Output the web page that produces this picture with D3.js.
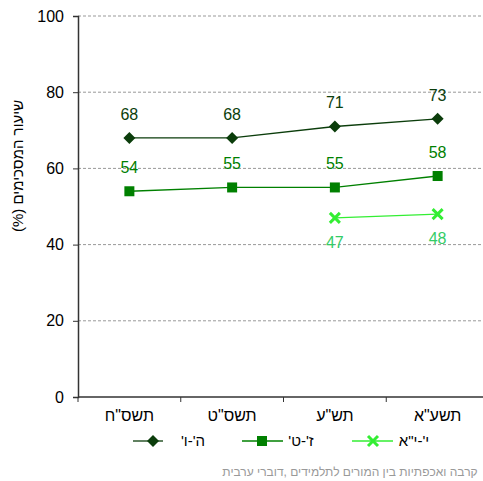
<!DOCTYPE html>
<html><head><meta charset="utf-8">
<script src="https://cdn.jsdelivr.net/npm/d3@7"></script>
<style>body{margin:0;background:#fff}svg{display:block;font-family:"Liberation Sans",Arial,sans-serif}</style>
</head><body><svg id="c" width="483" height="481"></svg>
<script>
const categories = ['תשס"ח', 'תשס"ט', 'תש"ע', 'תשע"א'];
const seriesNames = ["ה'-ו'", "ז'-ט'", "י'-י\"א"];
const valuesA = [68, 68, 71, 73];
const valuesB = [54, 55, 55, 58];
const valuesC = [null, null, 47, 48];
const yTicks = [0, 20, 40, 60, 80, 100];
const yTitle = "שיעור המסכימים (%)";
const footer = "קרבה ואכפתיות בין המורים לתלמידים ,דוברי ערבית";

(function () {
const svg = d3.select("#c");
const mLeft = 78, mRight = 489, mTop = 16, mBottom = 397;
const x = d3.scaleBand().domain(categories).range([mLeft, mRight]);
const y = d3.scaleLinear().domain([0, 100]).range([mBottom, mTop]);

// grid
svg.append("g").selectAll("line").data(yTicks.filter(d => d > 0)).join("line")
  .attr("x1", mLeft).attr("x2", 483).attr("y1", d => y(d)).attr("y2", d => y(d))
  .attr("stroke", "#999").attr("stroke-dasharray", "3,2").attr("stroke-width", 1);

// y axis
const ya = svg.append("g").attr("transform", `translate(${mLeft},0)`)
  .call(d3.axisLeft(y).tickValues(yTicks).tickSize(5).tickPadding(9));
ya.select(".domain").attr("stroke", "#333").attr("stroke-width", 1.5);
ya.selectAll(".tick line").attr("stroke", "#333");
ya.selectAll("text").attr("font-size", 16).attr("fill", "#000").attr("font-family", "Liberation Sans, Arial");

// x axis
svg.append("line").attr("x1", mLeft).attr("x2", 483).attr("y1", mBottom).attr("y2", mBottom).attr("stroke", "#333").attr("stroke-width", 1.5);
const bounds = categories.map(c => x(c));
svg.append("g").selectAll("line").data(bounds).join("line")
  .attr("x1", d => d).attr("x2", d => d).attr("y1", mBottom).attr("y2", mBottom + 5).attr("stroke", "#333");
svg.append("g").selectAll("text").data(categories).join("text")
  .attr("x", d => x(d) + x.bandwidth() / 2).attr("y", 421)
  .attr("text-anchor", "middle").attr("direction", "rtl").attr("font-size", 16).text(d => d);

// y title
svg.append("text").attr("transform", "translate(23,166) rotate(-90)")
  .attr("text-anchor", "middle").attr("direction", "rtl").attr("font-size", 15).text(yTitle);

const cx = i => x(categories[i]) + x.bandwidth() / 2;
const series = [
  {vals: valuesA, color: "#0b3d0b", label: "#0b3d0b", marker: "diamond", dy: -18},
  {vals: valuesB, color: "#008000", label: "#008000", marker: "square", dy: -18},
  {vals: valuesC, color: "#33ee33", label: "#33cc66", marker: "x", dy: 30}
];
function drawMarker(g, type, color, px, py) {
  if (type === "diamond") {
    g.append("path").attr("d", `M${px},${py-6}L${px+6},${py}L${px},${py+6}L${px-6},${py}Z`).attr("fill", color);
  } else if (type === "square") {
    g.append("rect").attr("x", px - 5).attr("y", py - 5).attr("width", 10).attr("height", 10).attr("fill", color);
  } else {
    g.append("path").attr("d", `M${px-5},${py-5}L${px+5},${py+5}M${px-5},${py+5}L${px+5},${py-5}`)
      .attr("stroke", color).attr("stroke-width", 3).attr("fill", "none");
  }
}
series.forEach(s => {
  const pts = s.vals.map((v, i) => v == null ? null : [cx(i), y(v), v]).filter(p => p);
  svg.append("path").attr("d", d3.line()(pts.map(p => [p[0], p[1]])))
    .attr("fill", "none").attr("stroke", s.color).attr("stroke-width", 1.3);
  const g = svg.append("g");
  pts.forEach(p => drawMarker(g, s.marker, s.color, p[0], p[1]));
  svg.append("g").selectAll("text").data(pts).join("text")
    .attr("x", p => p[0]).attr("y", p => p[1] + s.dy).attr("text-anchor", "middle")
    .attr("font-size", 16).attr("fill", s.label).text(p => p[2]);
});

// legend
const leg = [
  {x1: 133, x2: 163, mx: 153, tx: 193},
  {x1: 242, x2: 283, mx: 262, tx: 301},
  {x1: 352, x2: 393, mx: 373, tx: 414}
];
leg.forEach((l, i) => {
  const s = series[i];
  svg.append("line").attr("x1", l.x1).attr("x2", l.x2).attr("y1", 441).attr("y2", 441).attr("stroke", s.color).attr("stroke-width", 1.3);
  drawMarker(svg, s.marker, s.color, l.mx, 441);
  svg.append("text").attr("x", l.tx).attr("y", 446).attr("text-anchor", "middle").attr("direction", "rtl")
    .attr("font-size", 15).text(seriesNames[i]);
});

svg.append("text").attr("x", 350).attr("y", 476).attr("text-anchor", "middle").attr("direction", "rtl")
  .attr("font-size", 12).attr("fill", "#999").text(footer);
})();
</script></body></html>
